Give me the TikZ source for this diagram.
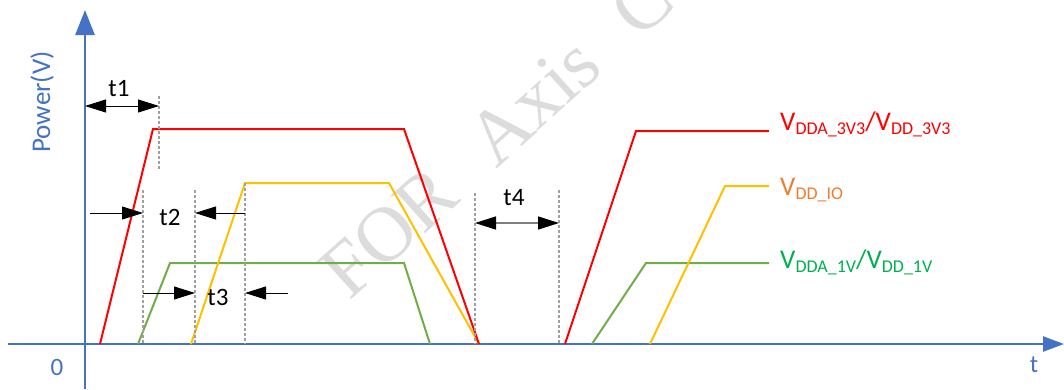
\documentclass[tikz,border=0pt]{standalone}
\usepackage{fontspec}
\setmainfont{Carlito}
\newfontfamily\wmfont{Liberation Serif}
\usetikzlibrary{arrows.meta}
\definecolor{axisblue}{HTML}{4472C4}
\definecolor{vred}{HTML}{FF0000}
\definecolor{vyellow}{HTML}{FFC000}
\definecolor{vgreen}{HTML}{70AD47}
\definecolor{legorange}{HTML}{ED7D31}
\definecolor{leggreen}{HTML}{00B050}
\definecolor{guide}{HTML}{A0A0A0}
\definecolor{dimgray}{HTML}{7F7F7F}
\definecolor{wmark}{HTML}{DCDCDC}
\newcommand{\vsub}[1]{\raisebox{-4.5pt}{\fontsize{18}{18}\selectfont #1}}
\begin{document}
\begin{tikzpicture}[x=1pt,y=-1pt,
  axis/.style={draw=axisblue, line width=2.5pt},
  rail/.style={line width=2pt, line join=miter},
  guideline/.style={draw=guide, line width=2.5pt, dash pattern=on 2.5pt off 2.5pt},
  dimline/.style={draw=black, line width=1pt},
  onetip/.style={-{Triangle[length=21pt,width=13pt,color=black,fill=black]}},
  twotip/.style={{Triangle[length=21pt,width=13pt,color=black,fill=black]}-{Triangle[length=21pt,width=13pt,color=black,fill=black]}},
  lbl/.style={font=\fontsize{25}{25}\selectfont, inner sep=0pt},
  leg/.style={font=\fontsize{27}{27}\selectfont, anchor=base west, inner sep=0pt}
]
\useasboundingbox (0,0) rectangle (1064,389);
% watermark
\node[text=wmark, font=\wmfont\fontsize{78}{78}\selectfont, rotate=42, anchor=base west, inner sep=0pt] (wm) at (349,302) {FOR\hspace{46pt}Axis\hspace{46pt}C};
% axes
\coordinate (ybot) at (85,389);
\coordinate (ytop) at (85,10);
\coordinate (xleft) at (8,344);
\coordinate (xright) at (1064,344);
\draw[axis, -{Triangle[length=25pt,width=19pt]}] (ybot) -- (ytop);
\draw[axis, -{Triangle[length=21pt,width=15pt]}] (xleft) -- (xright);
% supply rails
\draw[rail, vgreen] (138,344) -- (170,263) -- (404,263) -- (430,344);
\draw[rail, vgreen] (592,344) -- (646,263) -- (769,263);
\draw[rail, vyellow] (191,344) -- (245,183) -- (389,183) -- (479,344);
\draw[rail, vyellow] (650,344) -- (725,186) -- (769,186);
\draw[rail, vred] (100,344) -- (153,129) -- (404,129) -- (479,344);
\draw[rail, vred] (565,344) -- (636,131) -- (769,131);
% guides
\coordinate (g1a) at (159,96);  \coordinate (g1b) at (159,170);
\coordinate (g2a) at (143,190); \coordinate (g2b) at (143,344);
\coordinate (g3a) at (195,190); \coordinate (g3b) at (195,344);
\coordinate (g4a) at (245,183); \coordinate (g4b) at (245,344);
\coordinate (g5a) at (475,193); \coordinate (g5b) at (475,344);
\coordinate (g6a) at (559,190); \coordinate (g6b) at (559,344);
\foreach \g in {1,...,6} \draw[guideline] (g\g a) -- (g\g b);
% dimension arrows
\coordinate (t1l) at (85,106);  \coordinate (t1r) at (159,106);
\draw[dimline, twotip] (t1l) -- (t1r);
\coordinate (t2s) at (90,213);  \coordinate (t2e) at (143,213);
\draw[dimline, onetip] (t2s) -- (t2e);
\coordinate (t2s2) at (245,213); \coordinate (t2e2) at (195,213);
\draw[dimline, onetip] (t2s2) -- (t2e2);
\coordinate (t3s) at (143,293); \coordinate (t3e) at (195,293);
\draw[dimline, onetip] (t3s) -- (t3e);
\coordinate (t3s2) at (288,293); \coordinate (t3e2) at (245,293);
\draw[dimline, onetip] (t3s2) -- (t3e2);
\coordinate (t4l) at (475,223); \coordinate (t4r) at (559,223);
\draw[draw=dimgray, line width=1.5pt, twotip] (t4l) -- (t4r);
% labels
\node[lbl] (lt1) at (119,89) {t1};
\node[lbl] (lt2) at (170,217) {t2};
\node[lbl] (lt3) at (218,297) {t3};
\node[lbl] (lt4) at (514,198) {t4};
\node[lbl, text=axisblue] (l0) at (57,367) {0};
\node[lbl, text=axisblue] (lt) at (1034,365) {t};
\node[lbl, text=axisblue, rotate=90, font=\fontsize{27}{27}\selectfont] (lp) at (42,102) {Power(V)};
% legend
\node[leg, text=vred] (leg1) at (780,130) {V\vsub{DDA\_3V3}/V\vsub{DD\_3V3}};
\node[leg, text=legorange] (leg2) at (780,195) {V\vsub{DD\_IO}};
\node[leg, text=leggreen] (leg3) at (780,268) {V\vsub{DDA\_1V}/V\vsub{DD\_1V}};
\end{tikzpicture}
\end{document}
